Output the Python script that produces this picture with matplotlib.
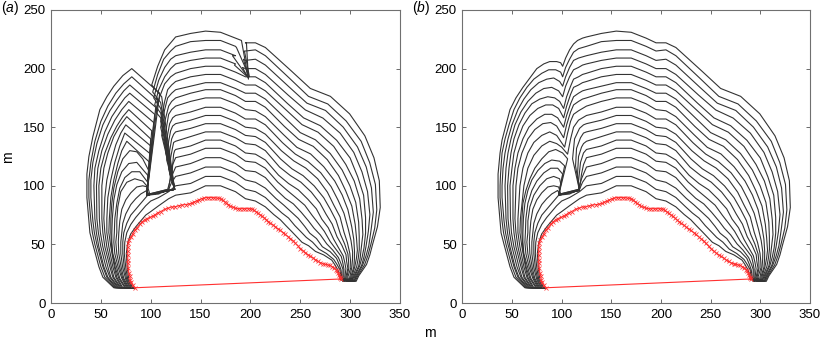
import numpy as np
import matplotlib
matplotlib.use("Agg")
import matplotlib.pyplot as plt

# ---------------- data ----------------
# initial perimeter (red, x markers), in m
RED_X = [84, 82, 80, 79.5, 79, 78, 77.5, 77, 77, 77, 77, 77, 77.5, 78.5, 80, 82, 84, 86, 89, 91,
         94, 96, 99, 102, 104, 107, 110, 114, 117.6, 121, 124, 128, 131, 135, 138, 141, 143, 146,
         148, 151, 153, 156, 158, 161, 163, 166, 168, 170, 172, 174, 176, 178, 180, 183, 185, 188,
         190, 193, 195, 198, 200, 202, 204, 206, 208, 210, 212, 214, 216, 218, 220, 223, 225, 228,
         230, 233, 235, 238, 240, 243, 245, 248, 250, 253, 255, 258, 260, 263, 265, 268, 270, 273,
         275, 278, 280, 282, 284, 286, 287, 288, 288.5, 289.5, 290, 291]
RED_Y = [13, 15, 18, 20, 23, 26, 30, 34, 37, 41, 44, 48, 51, 54, 56, 59, 62, 64, 67, 69,
         71, 72, 73, 74, 75, 77, 78, 80, 81, 82, 82, 83, 83.6, 84, 84.5, 85, 86, 87,
         88, 89, 89.5, 90, 90, 90, 90, 89.5, 89.5, 89, 88, 86.5, 85, 84, 82.5, 81.5, 81, 80.5,
         80.5, 80.5, 80.5, 80.5, 80.5, 80, 79, 77.5, 76.5, 75, 74, 72.5, 71, 69.5, 68, 66.5, 65, 63,
         62, 60, 58.5, 56.5, 55, 53, 51, 48.5, 46.5, 44.5, 43, 41, 40, 38.5, 37, 35.5, 34.5, 33.5,
         33, 32.5, 32, 31, 30, 28.5, 27, 25.5, 24, 22.5, 21.5, 20.5]

# left / notch part of each later perimeter, panel (b) (innermost first)
LEFT_B = [
    [(82, 13), (78, 20), (76.5, 30), (75.5, 42), (77, 52), (80, 59), (85, 65), (90, 70), (95, 75), (100, 78), (108, 83), (118, 89)],
    [(81, 13), (77, 20), (75, 30), (73.5, 42), (74, 52), (76, 60), (80, 67), (85, 73), (90, 78), (95, 83), (100, 87), (108, 90), (118, 95)],
    [(80, 13), (76, 20), (73.5, 30), (72, 42), (72, 52), (73, 60), (76, 68), (80, 75), (85, 80), (90, 85), (94, 89), (97, 92), (108, 93), (118, 97), (121, 103)],
    [(79, 13), (75, 20), (72, 30), (70, 42), (70, 52), (71, 60), (72, 68), (75, 76), (80, 84), (85, 89), (90, 93), (96, 96), (98, 93), (108, 95), (117, 97), (120, 106)],
    [(78, 13), (73, 21), (70.5, 30), (68, 42), (67.5, 52), (68, 60), (69, 70), (71, 80), (75, 88), (80, 94), (86, 99), (92, 100), (97, 99), (99, 93), (108, 95), (118, 97), (120, 110), (122, 118)],
    [(77, 13), (72, 21), (69, 30), (66, 42), (65, 52), (66, 60), (66, 70), (68, 82), (72, 92), (78, 100), (85, 106), (92, 108), (98, 106), (99, 102), (97, 92), (118, 96), (117, 104), (119, 120), (122, 128)],
    [(76, 13), (71, 21), (67.5, 30), (64, 42), (63, 52), (63.5, 60), (64, 72), (66, 85), (70, 96), (75, 104), (82, 111), (89, 115), (96, 115), (101, 110), (97, 92), (118, 96), (116, 110), (117, 125), (120, 133), (122, 136)],
    [(75, 13), (69, 21), (66, 30), (62, 42), (61, 52), (61, 60), (61.5, 72), (63, 85), (66, 96), (70, 105), (76, 113), (83, 119), (90, 122), (98, 121), (103, 117), (97, 92), (118, 96), (114, 117), (115, 132), (119, 141), (122, 145)],
    [(74, 13), (68, 21), (64.5, 30), (61, 45), (60, 60), (60, 72), (61, 85), (64, 96), (68, 106), (73, 115), (80, 123), (87, 129), (94, 131), (101, 128), (106, 123), (97, 92), (118, 96), (111, 123), (113, 140), (118, 149), (122, 152)],
    [(72, 13), (66, 22), (63.5, 31), (60, 48), (58, 60), (58.5, 72), (62, 100), (66, 115), (72, 126), (80, 134), (88, 138), (95, 136), (100, 133), (106, 127), (109, 140), (112, 150), (117, 156), (121, 158)],
    [(71, 13), (65, 22), (62, 31), (58, 48), (56, 60), (56, 72), (58, 100), (61, 115), (66, 128), (72, 137), (80, 143), (88, 146), (95, 143), (103, 133), (106, 145), (109, 155), (112, 161), (117, 164), (121, 166)],
    [(70, 13), (63, 22), (60.5, 31), (56, 48), (54, 60), (53, 72), (54, 100), (56, 115), (60, 128), (66, 140), (73, 148), (81, 153), (89, 154), (95, 151), (102, 141), (105, 152), (109, 163), (112, 169), (117, 172), (121, 174)],
    [(69, 13), (62, 22), (59, 31), (54, 48), (52, 60), (51, 72), (51, 100), (53, 115), (56, 128), (61, 140), (67, 150), (75, 157), (83, 161), (90, 161), (96, 158), (102, 150), (105, 160), (109, 170), (112, 176), (117, 179), (121, 181)],
    [(68, 13), (60, 22), (57, 31), (52, 48), (49.5, 60), (48.5, 72), (48, 100), (50, 115), (52, 128), (56, 140), (61, 151), (68, 160), (76, 166), (84, 169), (91, 169), (97, 166), (102, 158), (105, 168), (109, 178), (112, 184), (117, 186), (121, 188)],
    [(67, 13), (59, 22), (55, 31), (50, 48), (47.5, 60), (46, 72), (45.6, 100), (47, 115), (49, 128), (52, 140), (57, 152), (63, 162), (70, 170), (78, 174), (86, 176), (93, 175), (98, 172), (102, 166), (105, 176), (109, 185), (112, 191), (117, 193), (121, 195)],
    [(66, 13), (57, 22), (53, 31), (48, 48), (45.5, 60), (44, 72), (43, 100), (44, 115), (46, 128), (49, 140), (53, 152), (59, 163), (66, 172), (74, 179), (82, 183), (90, 184), (97, 181), (101, 176), (104, 185), (108, 193), (112, 199), (117, 201), (121, 203)],
    [(65, 13), (56, 22), (52, 31), (46, 50), (43.5, 60), (42, 70), (40, 90), (40, 100), (41, 115), (43, 128), (46, 140), (50, 152), (56, 165), (62, 174), (69, 182), (77, 188), (85, 191), (92, 192), (98, 189), (101, 185), (104, 193), (108, 201), (112, 207), (117, 209), (121, 210)],
    [(64, 13), (54, 22), (50, 31), (44, 50), (41.5, 60), (40, 70), (38, 90), (38, 100), (38.5, 110), (40, 128), (43, 140), (47, 152), (52, 165), (58, 175), (65, 184), (72, 191), (80, 196), (87, 199), (94, 199), (99, 197), (101, 193), (104, 201), (108, 208), (112, 214), (117, 217), (121, 218)],
    [(63, 13), (52, 22), (48, 31), (42, 50), (39, 60), (38, 70), (36, 90), (36, 110), (38, 128), (40, 139), (44, 152), (48, 165), (54, 175), (61, 184), (68, 192), (75, 200), (82, 204), (88, 206), (95, 206), (99, 205), (101, 202), (104, 209), (108, 216), (112, 221), (116, 224), (121, 226)],
]

# left / crossing part of each perimeter, panel (a) (the five innermost are as in (b))
LEFT_A = LEFT_B[:5] + [
    [(77, 13), (72, 21), (69, 30), (66, 42), (65, 52), (66, 60), (66, 70), (67, 82), (70, 95), (76, 103), (84, 106), (92, 104), (97, 99), (96, 92), (124, 97), (121, 105), (122, 118), (123, 127), (124, 130)],
    [(76, 13), (71, 21), (67.5, 30), (64, 42), (63, 52), (63.5, 60), (64, 72), (66, 85), (69, 98), (74, 107), (81, 112), (89, 112), (97, 103), (96, 92), (124, 97), (119, 110), (120, 124), (122, 133), (123, 137)],
    [(75, 13), (69, 21), (66, 30), (62, 42), (61, 52), (61, 60), (61.5, 72), (63, 88), (66, 101), (71, 112), (78, 119), (86, 120), (98, 108), (96, 92), (124, 97), (118, 114), (119, 130), (121, 140), (123, 144)],
    [(74, 13), (68, 21), (64.5, 30), (61, 45), (60, 60), (60, 72), (61, 85), (63, 98), (67, 112), (72, 123), (79, 130), (86, 129), (92, 123), (98, 113), (96, 92), (124, 97), (116, 122), (118, 138), (120, 147), (122, 151)],
    [(72, 13), (66, 22), (63.5, 31), (60, 48), (58, 60), (58.5, 72), (60, 90), (63, 105), (67, 119), (71, 130), (76, 138), (99, 120), (96, 92), (124, 97), (115, 128), (117, 144), (119, 153), (122, 158)],
    [(71, 13), (65, 22), (62, 31), (58, 48), (56, 60), (56, 72), (57, 90), (60, 105), (64, 120), (69, 134), (74, 145), (100, 127), (96, 92), (124, 97), (114, 136), (116, 151), (118, 161), (121, 165)],
    [(70, 13), (63, 22), (60.5, 31), (56, 48), (54, 60), (53, 72), (54, 90), (56, 105), (60, 120), (65, 135), (70, 145), (75, 152), (100, 134), (96, 92), (124, 97), (111, 143), (115, 158), (118, 168), (121, 172)],
    [(69, 13), (62, 22), (59, 31), (54, 48), (52, 60), (51, 72), (51, 100), (53, 115), (57, 128), (63, 142), (69, 151), (76, 159), (100, 140), (96, 92), (124, 97), (110, 150), (114, 165), (117, 175), (121, 179)],
    [(68, 13), (60, 22), (57, 31), (52, 48), (49.5, 60), (48.5, 72), (48, 100), (50, 115), (54, 128), (60, 141), (66, 151), (72, 159), (78, 165), (101, 147), (96, 92), (124, 97), (110, 155), (114, 172), (117, 182), (121, 186)],
    [(67, 13), (59, 22), (55, 31), (50, 48), (47.5, 60), (46, 72), (45.6, 100), (47, 115), (51, 130), (57, 144), (64, 156), (71, 165), (78, 172), (103, 154), (96, 92), (124, 97), (110, 158), (105, 163), (109, 176), (114, 187), (120, 193)],
    [(66, 13), (57, 22), (53, 31), (48, 48), (45.5, 60), (44, 72), (43, 100), (44, 115), (48, 130), (54, 146), (61, 159), (68, 168), (74, 175), (79, 179), (104, 161), (96, 92), (124, 97), (110, 162), (104, 169), (108, 182), (114, 193), (120, 200)],
    [(65, 13), (56, 22), (52, 31), (46, 50), (43.5, 60), (42, 70), (40, 90), (40, 105), (42, 120), (46, 136), (52, 152), (59, 164), (66, 173), (73, 181), (79, 186), (105, 167), (96, 92), (124, 97), (110, 166), (103, 175), (108, 190), (114, 201), (120, 208)],
    [(64, 13), (54, 22), (50, 31), (44, 50), (41.5, 60), (40, 70), (38, 90), (38, 105), (40, 120), (44, 138), (50, 155), (57, 168), (65, 179), (73, 187), (81, 193), (107, 173), (96, 92), (124, 97), (110, 171), (102, 180), (107, 195), (113, 208), (120, 215)],
    [(63, 13), (52, 22), (48, 31), (42, 50), (39, 60), (38, 70), (36, 90), (36, 110), (38, 125), (42, 142), (49, 165), (56, 176), (63, 185), (72, 194), (81, 200), (109, 179), (96, 92), (124, 97), (111, 176), (101, 186), (107, 202), (114, 216), (120, 222)],
]

# top of each perimeter (shared by both panels): y at these x stations
TOP_X = [125, 140, 155, 170, 185, 195, 205]
TOP_Y = [
    [92, 94, 100, 100, 95, 89, 87],
    [100, 102, 108, 108, 103, 97, 95],
    [108, 111, 116, 116, 111, 105, 103],
    [116, 119, 124, 124, 119, 113, 112],
    [124, 127, 132, 132, 127, 121, 120],
    [131, 134, 139, 139, 134, 128, 127],
    [138, 142, 146, 146, 141, 136, 135],
    [146, 149, 153, 153, 148, 143, 142],
    [153, 156, 160, 160, 155, 150, 149],
    [160, 163, 167, 167, 162, 157, 157],
    [168, 172, 175, 175, 170, 165, 164],
    [175, 179, 182, 182, 177, 172, 172],
    [182, 185, 188, 188, 183, 179, 179],
    [189, 193, 195, 195, 190, 186, 186],
    [196, 200, 202, 202, 197, 193, 193],
    [204, 207, 209, 209, 204, 200, 200],
    [211, 214, 216, 216, 211, 207, 208],
    [219, 223, 224, 224, 219, 215, 216],
    [227, 230, 232, 231, 226, 222, 222],
]

# right flank: distance of each perimeter from the point (215, 15) along these directions (deg)
RAY_ORIGIN = (215, 15)
RAY_DEG = [90, 82, 75, 68, 60, 52, 45, 38, 30, 24, 18, 14, 10, 5]
RAY_R = [
    [67, 75, 83, 92, 100, 107, 115, 122, 129, 137, 144, 152, 159, 166, 173, 180, 188, 196, 203],
    [61, 68, 75, 82, 89, 95, 102, 109, 116, 123, 130, 137, 144, 151, 157, 164, 171, 178, 185],
    [58, 64, 71, 77, 84, 90, 97, 103, 110, 116, 122, 129, 135, 142, 148, 155, 161, 167, 174],
    [55, 62, 68, 75, 81, 88, 95, 101, 108, 114, 121, 128, 134, 141, 147, 154, 161, 167, 174],
    [53, 59, 66, 72, 79, 85, 92, 98, 105, 111, 117, 124, 130, 137, 143, 150, 156, 162, 169],
    [52, 58, 64, 70, 76, 83, 89, 95, 101, 107, 113, 119, 125, 131, 138, 144, 150, 156, 162],
    [52, 58, 63, 69, 75, 80, 86, 92, 97, 103, 109, 114, 120, 126, 131, 137, 143, 148, 154],
    [55, 60, 65, 70, 75, 80, 85, 90, 95, 100, 105, 110, 115, 120, 125, 130, 135, 140, 145],
    [58, 62, 66, 71, 75, 79, 83, 87, 91, 96, 100, 104, 108, 112, 116, 121, 125, 129, 133],
    [64, 67, 71, 74, 77, 80, 84, 87, 90, 94, 97, 100, 103, 107, 110, 113, 116, 120, 123],
    [70, 72, 75, 77, 80, 82, 85, 87, 89, 92, 94, 97, 99, 101, 104, 106, 109, 111, 113],
    [72, 74, 76, 78, 80, 82, 84, 86, 88, 90, 92, 94, 96, 98, 100, 102, 104, 106, 108],
    [74, 76, 77, 79, 80, 82, 84, 85, 87, 88, 90, 91, 93, 95, 96, 98, 99, 101, 103],
    [75, 76, 77, 78, 79, 80, 81, 82, 83, 85, 86, 87, 88, 89, 90, 91, 92, 93, 94],
]
END_X = [293, 294, 294, 295, 296, 297, 297, 298, 299, 299, 300, 301, 302, 302, 303, 304, 304, 305, 306]
END_Y = 18.5

# spikes of the four outermost perimeters in panel (a), after the x=185 station
SPIKE_A = {
    15: [(184, 203), (197, 193), (192, 201)],
    16: [(182, 211), (198, 192), (193, 208)],
    17: [(186, 218), (199, 193), (194, 215)],
    18: [(191, 224), (198, 191), (196, 222)],
}

X_TICKS = [0, 50, 100, 150, 200, 250, 300, 350]
Y_TICKS = [0, 50, 100, 150, 200, 250]


def perimeter(i, left, spikes):
    pts = [(RED_X[0], RED_Y[0])] + list(left[i])
    for k, x in enumerate(TOP_X):
        pts.append((x, TOP_Y[i][k]))
        if x == 185 and i in spikes:
            pts.extend(spikes[i])
    ox, oy = RAY_ORIGIN
    for deg, rr in zip(RAY_DEG, RAY_R):
        t = np.deg2rad(deg)
        pts.append((ox + rr[i] * np.cos(t), oy + rr[i] * np.sin(t)))
    pts.append((END_X[i], END_Y))
    pts.append((RED_X[-1], RED_Y[-1]))
    xs, ys = zip(*pts)
    return xs, ys


plt.rcParams['font.family'] = ['Liberation Sans', 'DejaVu Sans']
plt.rcParams['mathtext.fontset'] = 'custom'
plt.rcParams['mathtext.it'] = 'Liberation Sans:italic'
plt.rcParams['mathtext.rm'] = 'Liberation Sans'

fig = plt.figure(figsize=(8.21, 3.41), dpi=100)
W, H = 821, 341
ax_a = fig.add_axes([51 / W, 1 - 303 / H, (400 - 51) / W, (303 - 10) / H])
ax_b = fig.add_axes([462.3 / W, 1 - 303 / H, (810 - 462.3) / W, (303 - 10) / H])

for ax, left, spikes in ((ax_a, LEFT_A, SPIKE_A), (ax_b, LEFT_B, {})):
    for i in range(len(TOP_Y)):
        xs, ys = perimeter(i, left, spikes)
        ax.plot(xs, ys, color='#333333', lw=0.8, solid_joinstyle='round')
    ax.plot(RED_X + [RED_X[0]], RED_Y + [RED_Y[0]], color='#ff3030', lw=0.8)
    ax.plot(RED_X, RED_Y, linestyle='none', marker='x', color='#ff3030', ms=2.4, mew=0.55)
    ax.set_xlim(0, 350)
    ax.set_ylim(0, 250)
    ax.set_xticks(X_TICKS)
    ax.set_yticks(Y_TICKS)
    ax.tick_params(direction='in', top=True, right=True, length=3, width=0.7,
                   color='#6a6a6a', labelsize=9.5, pad=4)
    for s in ax.spines.values():
        s.set_color('#707070')
        s.set_linewidth(0.8)

fig.text(1 / W, 1 - 8 / H, '($\\mathit{a}$)', fontsize=10, ha='left', va='center')
fig.text(412 / W, 1 - 8 / H, '($\\mathit{b}$)', fontsize=10, ha='left', va='center')
fig.text(8 / W, 1 - 157 / H, 'm', fontsize=10, rotation=90, ha='center', va='center')
fig.text(430 / W, 1 - 333 / H, 'm', fontsize=10, ha='center', va='center')

fig.savefig('out.png', dpi=100)
